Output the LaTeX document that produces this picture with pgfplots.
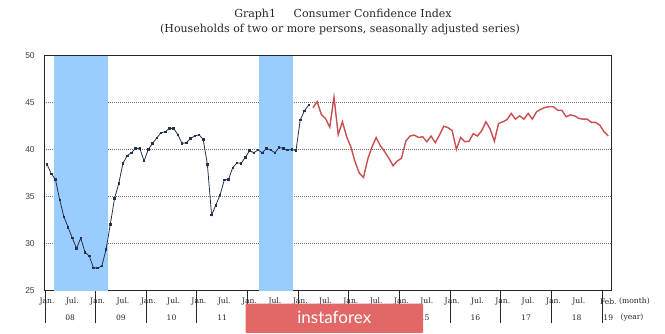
\documentclass[border=0pt]{standalone}
\usepackage{pgfplots}
\pgfplotsset{compat=1.18}
\usepackage{fontspec}
\setmainfont{DejaVu Serif}
\newfontfamily\ysans{Liberation Sans}
\newfontfamily\wmfont{Lato}
\definecolor{bandblue}{RGB}{153,204,255}
\definecolor{darkser}{RGB}{38,50,75}
\definecolor{redser}{RGB}{200,78,80}
\definecolor{wmred}{RGB}{226,104,104}
\begin{document}
\begin{tikzpicture}
\path[use as bounding box] (-44.3pt,-43.3pt) rectangle (620.7pt,290.7pt);
\begin{axis}[
  at={(0,0)}, anchor=south west,
  scale only axis, width=567.4pt, height=235pt,
  xmin=-0.64, xmax=133.8, ymin=25, ymax=50,
  axis line style={draw=black!85, line width=0.7pt},
  ytick={25,30,35,40,45,50}, yticklabels={25,30,35,40,45,50},
  ytick pos=left, xtick pos=bottom,
  ymajorgrids,
  grid style={gray!85!black, line width=0.5pt, dash pattern=on 1.2pt off 0.8pt},
  major tick length=0pt,
  tick align=outside,
  minor xtick={-0.5,11.5,23.5,35.5,47.5,59.5,71.5,83.5,95.5,107.5,119.5,131.5},
  minor tick length=32pt,
  minor tick style={black!85, line width=0.7pt},
  xtick={0,6,12,18,24,30,36,42,48,54,60,66,72,78,84,90,96,102,108,114,120,126,133},
  xticklabels={Jan.,Jul.,Jan.,Jul.,Jan.,Jul.,Jan.,Jul.,Jan.,Jul.,Jan.,Jul.,Jan.,Jul.,Jan.,Jul.,Jan.,Jul.,Jan.,Jul.,Jan.,Jul.,Feb.},
  xticklabel style={font=\fontsize{7.6}{8.5}\selectfont, text=black!85, anchor=center, yshift=-11pt},
  extra x ticks={5.5,17.5,29.5,41.5,53.5,65.5,77.5,89.5,101.5,113.5,125.5,133},
  extra x tick labels={08,09,10,11,12,13,14,15,16,17,18,19},
  extra x tick style={major tick length=0pt, xticklabel style={yshift=-15.6pt}},
  yticklabel style={font=\ysans\fontsize{8.5}{9}\selectfont, text=black!75, anchor=center, xshift=-14.3pt},
]
\addplot[fill=bandblue, draw=none] coordinates {(1.6,25) (1.6,50) (14.4,50) (14.4,25)} -- cycle;
\addplot[fill=bandblue, draw=none] coordinates {(50.3,25) (50.3,50) (58.2,50) (58.2,25)} -- cycle;
\addplot[darkser, line width=0.8pt, mark=square*, mark size=0.75pt] coordinates {
(0,38.44) (1,37.45) (2,36.84) (3,34.68) (4,32.87) (5,31.74) (6,30.6) (7,29.5) (8,30.6) (9,29.1)
(10,28.7) (11,27.45) (12,27.4) (13,27.65) (14,29.4) (15,32.06) (16,34.8) (17,36.4) (18,38.55) (19,39.36)
(20,39.68) (21,40.14) (22,40.14) (23,38.8) (24,40.03) (25,40.67) (26,41.24) (27,41.8) (28,41.9) (29,42.27)
(30,42.27) (31,41.6) (32,40.67) (33,40.74) (34,41.2) (35,41.45) (36,41.6) (37,41.1) (38,38.44) (39,33.05)
(40,34.1) (41,35.17) (42,36.77) (43,36.84) (44,38.08) (45,38.6) (46,38.55) (47,39.18) (48,39.9) (49,39.68)
(50,39.96) (51,39.68) (52,40.14) (53,39.96) (54,39.68) (55,40.25) (56,40.14) (57,39.96) (58,40.03) (59,39.9)
(60,43.16) (61,44.15) (62,44.75)
};
\addplot[redser, line width=1.4pt] coordinates {
(63,44.47) (64,45.1) (65,43.75) (66,43.3) (67,42.4) (68,45.6) (69,41.6) (70,42.97) (71,41.38) (72,40.3)
(73,38.7) (74,37.5) (75,37.05) (76,39.0) (77,40.3) (78,41.3) (79,40.4) (80,39.8) (81,39.1) (82,38.3)
(83,38.8) (84,39.1) (85,40.9) (86,41.45) (87,41.56) (88,41.3) (89,41.38) (90,40.85) (91,41.45) (92,40.75)
(93,41.56) (94,42.5) (95,42.35) (96,42.03) (97,40.04) (98,41.3) (99,40.85) (100,40.9) (101,41.7) (102,41.45)
(103,42.03) (104,42.97) (105,42.2) (106,40.9) (107,42.8) (108,42.97) (109,43.2) (110,43.86) (111,43.25) (112,43.6)
(113,43.25) (114,43.86) (115,43.25) (116,44.04) (117,44.3) (118,44.5) (119,44.57) (120,44.57) (121,44.2) (122,44.2)
(123,43.5) (124,43.7) (125,43.6) (126,43.33) (127,43.25) (128,43.25) (129,42.9) (130,42.9) (131,42.6) (132,41.9)
(133,41.45)
};
\end{axis}
\node[font=\fontsize{11}{13}\selectfont, text=black!85] at (298.7pt,276.2pt) {Graph1\hspace{1.6em}Consumer Confidence Index};
\node[font=\fontsize{11}{13}\selectfont, text=black!85] at (295.7pt,261.2pt) {(Households of two or more persons, seasonally adjusted series)};
\node[font=\fontsize{7.6}{8.5}\selectfont, text=black!85] at (590.2pt,-11pt) {(month)};
\node[font=\fontsize{7.6}{8.5}\selectfont, text=black!85] at (587.7pt,-26.6pt) {(year)};
\fill[wmred, rounded corners=1pt] (201.2pt,-42.3pt) rectangle (378.7pt,-12.9pt);
\node[text=white, font=\wmfont\fontsize{17}{18}\selectfont] at (290pt,-27pt) {instaforex};
\end{tikzpicture}
\end{document}
